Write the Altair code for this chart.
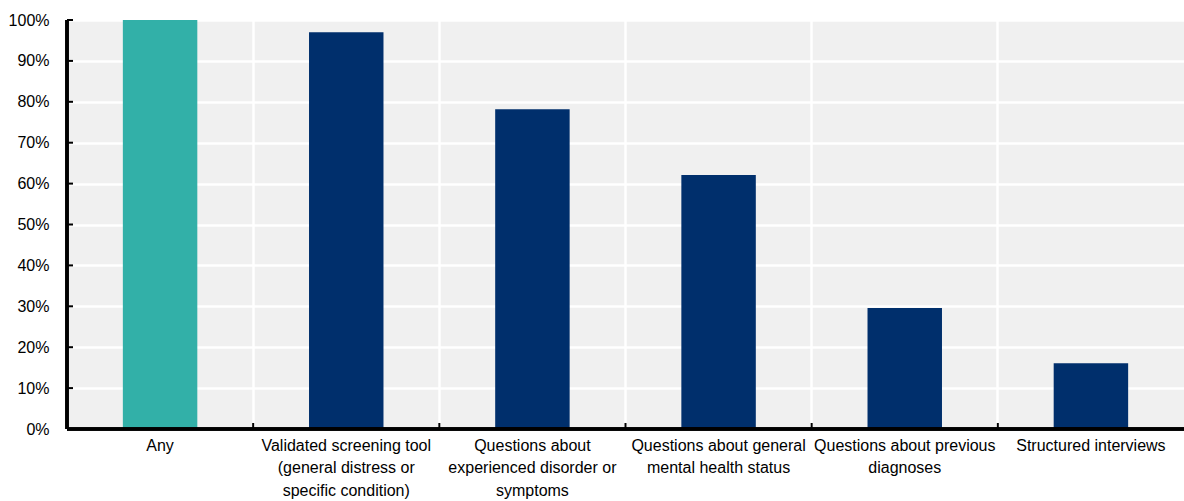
import altair as alt
import pandas as pd

# Share of respondents using each screening approach
categories = [
    "Any",
    "Validated screening tool|(general distress or|specific condition)",
    "Questions about|experienced disorder or|symptoms",
    "Questions about general|mental health status",
    "Questions about previous|diagnoses",
    "Structured interviews",
]
values = [1.00, 0.97, 0.782, 0.621, 0.296, 0.161]
groups = ["total", "item", "item", "item", "item", "item"]
y_ticks = [0.0, 0.1, 0.2, 0.3, 0.4, 0.5, 0.6, 0.7, 0.8, 0.9, 1.0]

TEAL = "#32b0a8"
NAVY = "#002f6c"
FONT = "Liberation Sans, Arial"
FONT_SIZE = 16

df = pd.DataFrame({"cat": categories, "value": values, "group": groups})
ticks_df = pd.DataFrame({"v": y_ticks})

W, H = 1117, 409

# full-step bands so that grid lines fall midway between bars
x_scale = alt.Scale(domain=categories, paddingInner=0, paddingOuter=0)
y_scale = alt.Scale(domain=[0, 1], nice=False)

bars = alt.Chart(df).mark_bar(width={"band": 0.4}).encode(
    x=alt.X(
        "cat:N",
        sort=categories,
        scale=x_scale,
        title=None,
        axis=alt.Axis(
            labelAngle=0,
            labelExpr="split(datum.label, '|')",
            labelFont=FONT,
            labelFontSize=FONT_SIZE,
            labelColor="#000000",
            labelLineHeight=22.5,
            labelPadding=8,
            labelLimit=400,
            ticks=False,
            domain=False,
            grid=True,
            gridColor="#ffffff",
            gridWidth=2.5,
            bandPosition=0,
        ),
    ),
    y=alt.Y(
        "value:Q",
        scale=y_scale,
        title=None,
        axis=alt.Axis(
            values=y_ticks,
            format=".0%",
            labelFont=FONT,
            labelFontSize=FONT_SIZE,
            labelColor="#000000",
            labelPadding=18,
            ticks=False,
            domain=False,
            grid=True,
            gridColor="#ffffff",
            gridWidth=2.5,
        ),
    ),
    color=alt.Color(
        "group:N",
        scale=alt.Scale(domain=["total", "item"], range=[TEAL, NAVY]),
        legend=None,
    ),
)

# inward ticks on the value axis
y_tick_marks = alt.Chart(ticks_df).mark_rule(color="#000000", strokeWidth=2).encode(
    y=alt.Y("v:Q", scale=y_scale),
    x=alt.value(0),
    x2=alt.value(6),
)

# inward ticks at category boundaries
x_tick_marks = alt.Chart(df).mark_rule(color="#000000", strokeWidth=2).encode(
    x=alt.X("cat:N", sort=categories, scale=x_scale, bandPosition=0),
    y=alt.value(H - 6),
    y2=alt.value(H),
)

# axis lines
x_axis_line = alt.Chart(ticks_df).mark_rule(color="#000000", strokeWidth=2.5).encode(
    x=alt.value(0), x2=alt.value(W), y=alt.value(H)
)
y_axis_line = alt.Chart(ticks_df).mark_rule(color="#000000", strokeWidth=2.5).encode(
    x=alt.value(0), y=alt.value(0), y2=alt.value(H)
)

chart = (
    alt.layer(bars, y_tick_marks, x_tick_marks, x_axis_line, y_axis_line)
    .properties(
        width=W,
        height=H,
        autosize=alt.AutoSizeParams(type="none"),
        padding={"left": 67, "top": 20, "right": 0, "bottom": 72},
        background="#ffffff",
    )
    .configure_view(fill="#f0f0f0", stroke=None)
)

chart.save("out.html", embed_options={"renderer": "svg", "actions": False})
